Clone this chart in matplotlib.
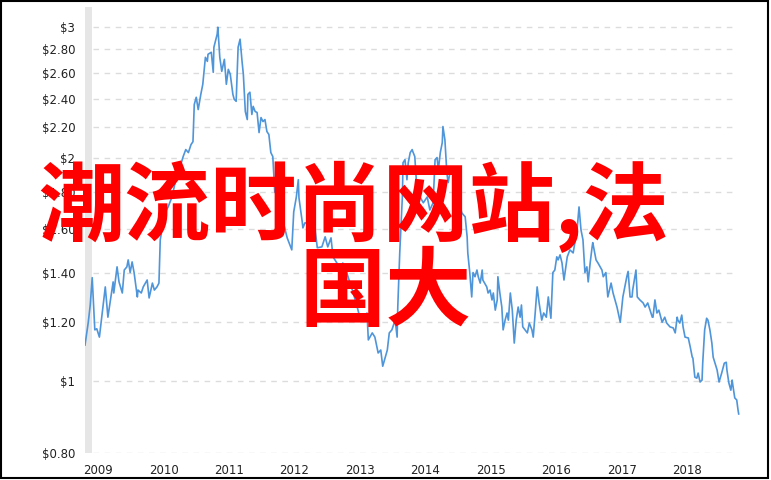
import matplotlib
matplotlib.use('Agg')
import matplotlib.pyplot as plt
from matplotlib.patches import Rectangle
from matplotlib.ticker import FixedLocator, NullLocator

# price history, decimal years / dollars
years = [
    2008.80, 2008.85, 2008.88, 2008.91, 2008.95, 2008.98, 2009.02, 2009.11, 2009.15, 2009.23,
    2009.24, 2009.29, 2009.32, 2009.37, 2009.40, 2009.44, 2009.46, 2009.49, 2009.52, 2009.55,
    2009.60, 2009.61, 2009.66, 2009.69, 2009.75, 2009.78, 2009.83, 2009.86, 2009.90, 2009.93,
    2009.95, 2010.02, 2010.07, 2010.13, 2010.21, 2010.25, 2010.30, 2010.34, 2010.38, 2010.42,
    2010.45, 2010.47, 2010.50, 2010.53, 2010.57, 2010.60, 2010.64, 2010.67, 2010.68, 2010.73,
    2010.76, 2010.77, 2010.82, 2010.83, 2010.86, 2010.89, 2010.93, 2010.96, 2010.99, 2011.02,
    2011.06, 2011.08, 2011.11, 2011.14, 2011.17, 2011.20, 2011.22, 2011.25, 2011.28, 2011.29,
    2011.32, 2011.35, 2011.37, 2011.40, 2011.43, 2011.46, 2011.49, 2011.52, 2011.55, 2011.58,
    2011.61, 2011.64, 2011.67, 2011.70, 2011.74, 2011.78, 2011.84, 2011.89, 2011.93, 2011.96,
    2011.99, 2012.03, 2012.06, 2012.07, 2012.12, 2012.13, 2012.16, 2012.19, 2012.21, 2012.27,
    2012.29, 2012.35, 2012.42, 2012.47, 2012.51, 2012.56, 2012.59, 2012.65, 2012.70, 2012.74,
    2012.80, 2012.85, 2012.90, 2012.96, 2013.00, 2013.05, 2013.11, 2013.13, 2013.19, 2013.23,
    2013.28, 2013.32, 2013.35, 2013.39, 2013.42, 2013.45, 2013.49, 2013.54, 2013.57, 2013.58,
    2013.61, 2013.65, 2013.66, 2013.69, 2013.72, 2013.74, 2013.77, 2013.80, 2013.81, 2013.84,
    2013.87, 2013.89, 2013.92, 2013.97, 2014.03, 2014.07, 2014.12, 2014.15, 2014.18, 2014.20,
    2014.23, 2014.26, 2014.27, 2014.30, 2014.33, 2014.35, 2014.38, 2014.42, 2014.49, 2014.56,
    2014.61, 2014.64, 2014.65, 2014.68, 2014.71, 2014.73, 2014.76, 2014.79, 2014.81, 2014.84,
    2014.87, 2014.88, 2014.94, 2014.96, 2014.99, 2015.02, 2015.04, 2015.07, 2015.10, 2015.11,
    2015.14, 2015.17, 2015.19, 2015.22, 2015.25, 2015.27, 2015.30, 2015.33, 2015.36, 2015.39,
    2015.42, 2015.45, 2015.47, 2015.49, 2015.56, 2015.59, 2015.63, 2015.65, 2015.68, 2015.71,
    2015.74, 2015.78, 2015.81, 2015.85, 2015.88, 2015.92, 2015.95, 2015.98, 2016.01, 2016.03,
    2016.06, 2016.09, 2016.12, 2016.17, 2016.21, 2016.26, 2016.32, 2016.35, 2016.38, 2016.41,
    2016.44, 2016.47, 2016.49, 2016.52, 2016.55, 2016.56, 2016.61, 2016.64, 2016.70, 2016.72,
    2016.76, 2016.79, 2016.84, 2016.87, 2016.93, 2016.98, 2017.02, 2017.08, 2017.10, 2017.13,
    2017.16, 2017.17, 2017.22, 2017.24, 2017.28, 2017.33, 2017.36, 2017.40, 2017.47, 2017.48,
    2017.51, 2017.54, 2017.57, 2017.62, 2017.66, 2017.69, 2017.74, 2017.79, 2017.82, 2017.85,
    2017.86, 2017.89, 2017.92, 2017.94, 2017.97, 2018.02, 2018.05, 2018.08, 2018.09, 2018.12,
    2018.15, 2018.17, 2018.20, 2018.23, 2018.24, 2018.27, 2018.30, 2018.32, 2018.35, 2018.38,
    2018.40, 2018.46, 2018.49, 2018.53, 2018.57, 2018.60, 2018.61, 2018.64, 2018.67, 2018.69,
    2018.70, 2018.73, 2018.76, 2018.78, 2018.79,
]
prices = [
    1.118, 1.200, 1.266, 1.378, 1.172, 1.176, 1.146, 1.339, 1.219, 1.360,
    1.314, 1.425, 1.360, 1.314, 1.411, 1.425, 1.456, 1.400, 1.447, 1.400,
    1.298, 1.326, 1.314, 1.339, 1.368, 1.294, 1.355, 1.326, 1.339, 1.355,
    1.550, 1.684, 1.716, 1.770, 1.908, 1.938, 2.006, 2.050, 2.031, 2.082,
    2.101, 2.358, 2.411, 2.321, 2.433, 2.510, 2.729, 2.695, 2.755, 2.772,
    2.605, 2.816, 2.932, 2.996, 2.729, 2.613, 2.712, 2.510, 2.629, 2.589,
    2.433, 2.396, 2.381, 2.816, 2.887, 2.695, 2.589, 2.307, 2.250, 2.433,
    2.449, 2.286, 2.344, 2.307, 2.300, 2.161, 2.264, 2.236, 2.250, 2.168,
    2.148, 2.031, 2.006, 1.798, 1.781, 1.700, 1.623, 1.559, 1.526, 1.502,
    1.690, 1.770, 1.867, 1.765, 1.638, 1.608, 1.633, 1.633, 1.810, 1.754,
    1.674, 1.512, 1.516, 1.564, 1.516, 1.559, 1.470, 1.442, 1.382, 1.442,
    1.400, 1.355, 1.314, 1.258, 1.219, 1.208, 1.235, 1.136, 1.161, 1.146,
    1.091, 1.101, 1.047, 1.077, 1.101, 1.161, 1.172, 1.208, 1.146, 1.258,
    1.488, 1.770, 1.968, 1.987, 1.867, 1.968, 2.031, 2.050, 2.037, 2.006,
    1.827, 1.754, 1.770, 1.738, 1.770, 1.700, 1.738, 1.987, 2.000, 1.926,
    2.031, 2.095, 2.202, 2.114, 1.908, 1.850, 1.914, 1.908, 1.770, 1.684,
    1.664, 1.564, 1.488, 1.400, 1.298, 1.400, 1.382, 1.411, 1.382, 1.355,
    1.411, 1.368, 1.339, 1.314, 1.326, 1.286, 1.314, 1.246, 1.286, 1.382,
    1.314, 1.258, 1.172, 1.208, 1.235, 1.208, 1.314, 1.246, 1.125, 1.208,
    1.258, 1.219, 1.266, 1.183, 1.161, 1.197, 1.172, 1.146, 1.235, 1.339,
    1.274, 1.208, 1.235, 1.219, 1.298, 1.215, 1.400, 1.411, 1.470, 1.456,
    1.479, 1.442, 1.368, 1.470, 1.502, 1.488, 1.598, 1.716, 1.598, 1.550,
    1.400, 1.425, 1.360, 1.442, 1.516, 1.536, 1.456, 1.442, 1.411, 1.382,
    1.400, 1.298, 1.355, 1.314, 1.258, 1.200, 1.298, 1.382, 1.405, 1.298,
    1.298, 1.326, 1.411, 1.298, 1.286, 1.274, 1.258, 1.274, 1.219, 1.219,
    1.286, 1.235, 1.246, 1.200, 1.219, 1.197, 1.183, 1.179, 1.161, 1.219,
    1.208, 1.197, 1.227, 1.183, 1.146, 1.143, 1.111, 1.077, 1.074, 1.012,
    1.009, 1.025, 0.997, 1.003, 1.057, 1.172, 1.215, 1.208, 1.172, 1.125,
    1.077, 1.035, 0.997, 1.025, 1.057, 1.060, 1.035, 0.994, 0.972, 1.003,
    0.988, 0.949, 0.943, 0.914, 0.903,
]

y_ticks = [0.8, 1.0, 1.2, 1.4, 1.6, 1.8, 2.0, 2.2, 2.4, 2.6, 2.8, 3.0]
y_labels = ['$0.80', '$1', '$1.20', '$1.40', '$1.60', '$1.80', '$2', '$2.20',
            '$2.40', '$2.60', '$2.80', '$3']
x_ticks = [2009, 2010, 2011, 2012, 2013, 2014, 2015, 2016, 2017, 2018]
x_labels = [str(y) for y in x_ticks]
recession = (2008.80, 2008.91)

overlay_line1 = '潮流时尚网站,法'
overlay_line2 = '国大'

W, H = 771, 480
fig = plt.figure(figsize=(W / 100, H / 100), dpi=100)
fig.patch.set_facecolor('white')

# plot area in pixels: x 85..740, y 7..453
ax = fig.add_axes([85 / W, (H - 453) / H, (740 - 85) / W, (453 - 7) / H])
ax.set_yscale('log')
ax.set_xlim(2008.80, 2018.81)
ax.set_ylim(0.8, 3.19)

ax.axvspan(recession[0], recession[1], color='#e6e6e6', lw=0, zorder=0)
ax.hlines(y_ticks, 2008.92, 2018.77, colors='#dcdcdc', linestyles=(0, (4, 4)),
          linewidth=1, zorder=1)
ax.plot(years, prices, color='#4f95d9', linewidth=1.2, zorder=3)

for s in ax.spines.values():
    s.set_visible(False)
ax.yaxis.set_major_locator(FixedLocator(y_ticks))
ax.yaxis.set_minor_locator(NullLocator())
ax.set_yticklabels(y_labels)
ax.set_xticks(x_ticks)
ax.set_xticklabels(x_labels)
ax.tick_params(axis='both', length=0, labelsize=8.5, labelcolor='#222222')
ax.tick_params(axis='y', pad=7)
ax.tick_params(axis='x', pad=8)

# red overlay text
red_font = dict(family=['Noto Sans CJK SC', 'DejaVu Sans'], weight='bold',
                color='#ff0000', fontsize=62, ha='center', va='center')
fig.text(354 / W, 1 - 207 / H, overlay_line1, **red_font)
fig.text(386 / W, 1 - 294 / H, overlay_line2, **red_font)

# black frame around the image
fig.patches.append(Rectangle((1 / W, 2 / H), 767 / W, 477 / H, transform=fig.transFigure,
                             fill=False, edgecolor='black', linewidth=1.5))

fig.savefig('out.png', dpi=100, facecolor='white')
plt.close(fig)
